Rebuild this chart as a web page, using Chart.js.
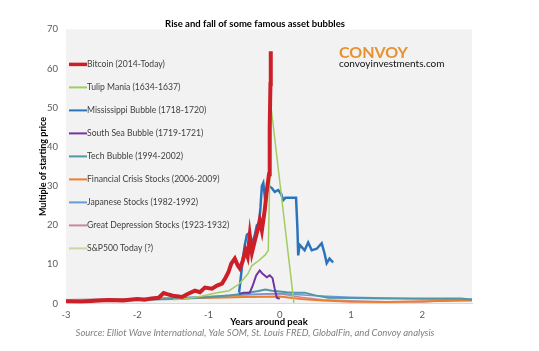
<!DOCTYPE html>
<html>
<head>
<meta charset="utf-8">
<script src="https://cdn.jsdelivr.net/npm/chart.js@4.4.1/dist/chart.umd.min.js"></script>
<style>
    html, body { margin: 0; padding: 0; background: #fff; }
</style>
</head>
<body>
<canvas id="bubbleChart" width="539" height="351"></canvas>
<script>
// 刻度
const xTicks = [-3, -2, -1, 0, 1, 2];

// 各泡沫的数据 [年份(相对峰值), 起始价格的倍数]
const bitcoin = [[-3, 0.6], [-2.8, 0.5], [-2.6, 0.7], [-2.4, 0.9], [-2.2, 0.8], [-2.0, 1.2], [-1.9, 1.0], [-1.8, 1.3],
    [-1.7, 1.5], [-1.63, 2.7], [-1.58, 2.4], [-1.5, 2.0], [-1.37, 1.7], [-1.3, 2.4], [-1.19, 3.3], [-1.12, 2.9],
    [-1.05, 4.1], [-0.95, 3.8], [-0.88, 4.6], [-0.81, 5.1], [-0.76, 6.6], [-0.72, 8.0], [-0.68, 10.2], [-0.63, 11.5],
    [-0.59, 9.8], [-0.56, 9.0], [-0.52, 10.8], [-0.48, 13.6], [-0.45, 12.0], [-0.42, 17.4], [-0.39, 13.0],
    [-0.35, 16.0], [-0.3, 19.5], [-0.28, 21.3], [-0.25, 18.7], [-0.21, 23.8], [-0.18, 29.0], [-0.15, 33.0],
    [-0.14, 45.0], [-0.13, 56.0], [-0.125, 64.4]];
const tulipMania = [[-1.5, 1.0], [-1.3, 1.3], [-1.1, 1.9], [-0.9, 2.7], [-0.71, 3.3], [-0.57, 5.0], [-0.45, 7.5],
    [-0.39, 9.7], [-0.29, 11.0], [-0.2, 12.5], [-0.16, 13.6], [-0.12, 50.0], [0.2, 0.2]];
const mississippi = [[-0.57, 2.8], [-0.55, 6.0], [-0.52, 11.0], [-0.49, 15.0], [-0.46, 17.6], [-0.43, 18.0],
    [-0.41, 15.0], [-0.39, 15.4], [-0.35, 17.5], [-0.32, 20.0], [-0.29, 20.5], [-0.27, 24.5], [-0.25, 30.0],
    [-0.23, 30.8], [-0.21, 27.5], [-0.18, 28.5], [-0.15, 30.0], [-0.11, 29.5], [-0.07, 28.5], [-0.02, 29.0],
    [0.02, 28.0], [0.05, 26.4], [0.08, 27.0], [0.15, 27.0], [0.23, 27.0], [0.25, 18.7], [0.26, 12.3], [0.28, 15.0],
    [0.31, 14.4], [0.35, 13.6], [0.4, 15.6], [0.45, 13.6], [0.52, 14.0], [0.59, 15.4], [0.63, 12.8], [0.66, 10.3],
    [0.7, 11.5], [0.75, 10.5]];
const southSea = [[-0.57, 2.5], [-0.5, 2.8], [-0.42, 2.8], [-0.38, 4.5], [-0.33, 7.2], [-0.28, 8.5], [-0.24, 7.6],
    [-0.18, 6.7], [-0.14, 7.2], [-0.1, 6.5], [-0.07, 3.8], [-0.04, 1.5], [0.0, 1.2]];
const techBubble = [[-3, 0.6], [-2.5, 0.7], [-2.0, 0.9], [-1.5, 1.2], [-1.0, 1.6], [-0.7, 2.1], [-0.5, 2.6],
    [-0.3, 3.2], [-0.2, 3.6], [-0.11, 3.3], [0.0, 3.1], [0.1, 2.9], [0.21, 2.8], [0.35, 2.8], [0.5, 2.1],
    [0.68, 1.5], [1.0, 1.4], [1.5, 1.3], [2.0, 1.3], [2.55, 1.3], [2.7, 1.0]];
const financialCrisis = [[-3, 0.9], [-2.5, 1.0], [-2.0, 1.1], [-1.5, 1.3], [-1.0, 1.5], [-0.5, 1.7], [0.0, 1.8],
    [0.3, 1.2], [0.6, 0.8], [1.0, 0.5], [1.5, 0.4], [2.0, 0.6], [2.7, 0.8]];
const japaneseStocks = [[-3, 1.0], [-2.5, 1.1], [-2.0, 1.3], [-1.5, 1.5], [-1.0, 1.8], [-0.5, 2.3], [0.0, 2.6],
    [0.5, 2.0], [1.0, 1.6], [1.5, 1.4], [2.0, 1.2], [2.7, 1.1]];
const greatDepression = [[-3, 0.8], [-2.5, 0.9], [-2.0, 1.0], [-1.5, 1.2], [-1.0, 1.6], [-0.5, 2.2], [0.0, 2.5],
    [0.3, 1.6], [0.6, 1.0], [1.0, 0.7], [1.5, 0.5], [2.0, 0.4], [2.7, 1.2]];
const sp500Today = [[-3, 0.9], [-2.5, 1.0], [-2.0, 1.1], [-1.5, 1.2], [-1.0, 1.4], [-0.5, 1.6], [0.0, 1.8]];

const seriesNames = ['Bitcoin (2014-Today)', 'Tulip Mania (1634-1637)', 'Mississippi Bubble (1718-1720)',
    'South Sea Bubble (1719-1721)', 'Tech Bubble (1994-2002)', 'Financial Crisis Stocks (2006-2009)',
    'Japanese Stocks (1982-1992)', 'Great Depression Stocks (1923-1932)', 'S&P500 Today (?)'];
const seriesData = [bitcoin, tulipMania, mississippi, southSea, techBubble, financialCrisis,
    japaneseStocks, greatDepression, sp500Today];
const seriesColors = ['#cc1f28', '#a2cc60', '#2b74bd', '#7433a3', '#4f98a6', '#ed7d31', '#6a9ad6', '#c68aa0', '#c9d8a0'];
const seriesWidths = [4, 1.5, 2.5, 2, 2, 2, 1.5, 1.5, 1.5];

const FONT = 'Lato, "Open Sans", sans-serif';

// 绘图区灰色背景
const plotBackground = {
    id: 'plotBackground',
    beforeDraw(chart) {
        const a = chart.chartArea;
        const c = chart.ctx;
        c.save();
        c.fillStyle = '#f2f2f2';
        c.fillRect(a.left, a.top, a.right - a.left, a.bottom - a.top);
        c.restore();
    }
};

// 图内图例 + 标志
const sideLegend = {
    id: 'sideLegend',
    afterDraw(chart) {
        const c = chart.ctx;
        const a = chart.chartArea;
        c.save();
        c.textBaseline = 'middle';
        c.font = '8.6px ' + FONT;
        chart.data.datasets.forEach((ds, i) => {
            const y = a.top + 35 + i * 23;
            c.strokeStyle = ds.borderColor;
            c.lineWidth = i === 0 ? 3.5 : 2;
            c.beginPath();
            c.moveTo(a.left + 3, y);
            c.lineTo(a.left + 21, y);
            c.stroke();
            c.fillStyle = '#404040';
            c.fillText(ds.label, a.left + 21, y);
        });
        // CONVOY
        c.fillStyle = '#e8912f';
        c.font = 'bold 16px ' + FONT;
        c.textBaseline = 'alphabetic';
        c.fillText('CONVOY', 339, 58);
        c.fillStyle = '#111';
        c.font = '10px ' + FONT;
        c.fillText('convoyinvestments.com', 339, 67);
        c.restore();
    }
};

const ctx = document.getElementById('bubbleChart').getContext('2d');

const bubbleChart = new Chart(ctx, {
    type: 'scatter',
    data: {
        datasets: seriesData.map((pts, i) => ({
            label: seriesNames[i],
            data: pts.map(p => ({ x: p[0], y: p[1] })),
            borderColor: seriesColors[i],
            backgroundColor: seriesColors[i],
            borderWidth: seriesWidths[i],
            showLine: true,
            pointRadius: 0,
            tension: 0
        }))
    },
    options: {
        responsive: false,
        animation: false,
        layout: { padding: { left: 38, right: 67, top: 0, bottom: 12 } },
        plugins: {
            legend: { display: false },
            tooltip: { enabled: false },
            title: {
                display: true,
                text: 'Rise and fall of some famous asset bubbles',
                color: '#000',
                font: { family: FONT, size: 9.5, weight: 'bold' },
                padding: { top: 18, bottom: 0 }
            },
            subtitle: {
                display: true,
                position: 'bottom',
                text: 'Source: Elliot Wave International, Yale SOM, St. Louis FRED, GlobalFin, and Convoy analysis',
                color: '#7f7f7f',
                font: { family: FONT, size: 9.5, style: 'italic' },
                padding: { top: 0, bottom: 0 }
            }
        },
        scales: {
            x: {
                type: 'linear',
                min: -3,
                max: 2.7,
                afterBuildTicks(scale) {
                    scale.ticks = xTicks.map(v => ({ value: v }));
                },
                afterFit(scale) { scale.height = 24; },
                grid: { display: false, drawTicks: false },
                border: { display: true, color: '#d9d9d9' },
                ticks: { color: '#595959', font: { family: FONT, size: 9.5 }, padding: 6 },
                title: {
                    display: true,
                    text: 'Years around peak',
                    color: '#000',
                    font: { family: FONT, size: 9.5, weight: 'bold' },
                    padding: { top: 0, bottom: 0 }
                }
            },
            y: {
                min: 0,
                max: 70,
                afterFit(scale) { scale.width = 28; },
                grid: { display: false, drawTicks: false },
                border: { display: false },
                ticks: { stepSize: 10, color: '#595959', font: { family: FONT, size: 9.5 }, padding: 8 },
                title: {
                    display: true,
                    text: 'Multiple of starting price',
                    color: '#000',
                    font: { family: FONT, size: 9, weight: 'bold' },
                    padding: { top: 0, bottom: 0 }
                }
            }
        }
    },
    plugins: [plotBackground, sideLegend]
});
</script>
</body>
</html>
